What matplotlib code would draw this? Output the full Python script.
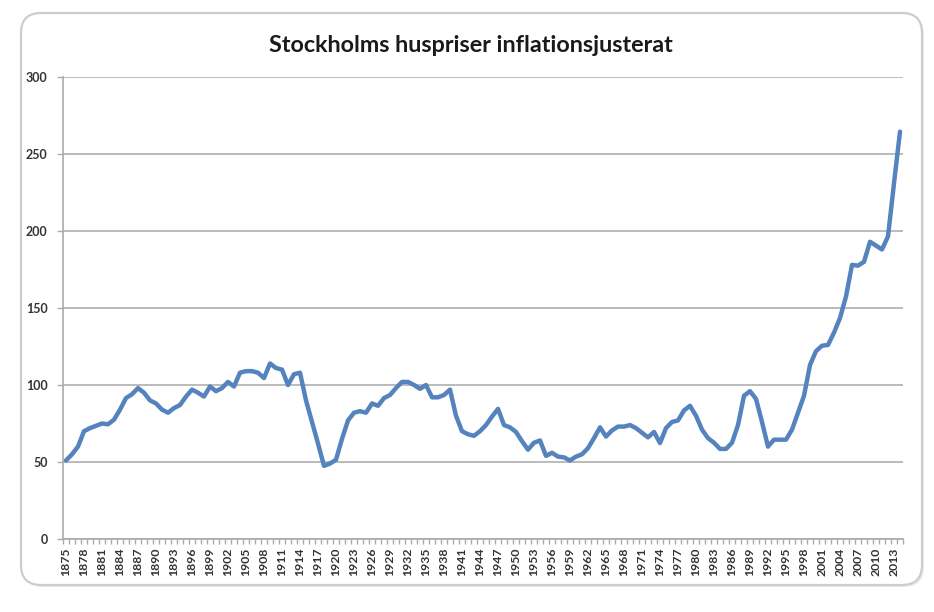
import numpy as np
import matplotlib
matplotlib.use("Agg")
from matplotlib import pyplot as plt
from matplotlib.patches import FancyBboxPatch

# inflationsjusterat prisindex, ett värde per år 1875-2014
first_year = 1875
values = [
    51, 55, 60, 70, 72, 73.5, 75, 74.5, 77.5, 84,            # 1875-1884
    91.5, 94, 98, 95, 90, 88, 84, 82, 85, 87,                 # 1885-1894
    92.5, 97, 95, 92.5, 99, 96, 98, 102, 99, 108,             # 1895-1904
    109, 109, 108, 104.5, 114, 111, 110, 100, 107, 108,       # 1905-1914
    90, 76, 62, 47.5, 49, 51.5, 65, 77, 82, 83,               # 1915-1924
    82, 88, 86.5, 91.5, 93.5, 98, 102, 102, 100, 97.5,        # 1925-1934
    100, 92, 92, 93.5, 97, 80, 70, 68, 67, 70,                # 1935-1944
    74, 79.5, 84.5, 74, 72.5, 69.5, 63.5, 58, 62.5, 64,       # 1945-1954
    54, 56, 53.5, 53, 51, 53.5, 55, 59, 65.5, 72.5,           # 1955-1964
    66.5, 70.5, 73, 73, 74, 72, 69, 66, 69.5, 62.3,           # 1965-1974
    72, 76, 77, 83.5, 86.5, 80, 71, 65.5, 62.5, 58.5,         # 1975-1984
    58.5, 62.5, 74, 93, 96, 91, 76, 60, 64.5, 64.5,           # 1985-1994
    64.5, 71, 82, 93, 113, 122, 125.5, 126, 134, 143.5,       # 1995-2004
    157.5, 178, 177.5, 180, 193, 190.5, 188, 196.5, 231, 264.5,  # 2005-2014
]
years = list(range(first_year, first_year + len(values)))
label_years = years[::3]   # 1875, 1878, ..., 2013
y_ticks = [0, 50, 100, 150, 200, 250, 300]
title = "Stockholms huspriser inflationsjusterat"

plt.rcParams['font.family'] = ['Lato', 'DejaVu Sans']

W, H = 934, 612
fig = plt.figure(figsize=(W / 100, H / 100), dpi=100)
fig.patch.set_facecolor('white')

# ram runt diagrammet (pixelkoordinater)
bg = fig.add_axes([0, 0, 1, 1], zorder=0)
bg.set_xlim(0, W)
bg.set_ylim(H, 0)
bg.axis('off')
shadow = FancyBboxPatch((23, 15), 901, 572, boxstyle="round,pad=0,rounding_size=20",
                        fc='#e9ebee', ec='none')
bg.add_patch(shadow)
frame = FancyBboxPatch((21, 13), 901, 572, boxstyle="round,pad=0,rounding_size=20",
                       fc='white', ec='#c9cdd4', lw=1.6)
bg.add_patch(frame)

ax = fig.add_axes([63 / W, 1 - 539 / H, 840 / W, 462 / H], zorder=1)
ax.patch.set_alpha(0)

ax.plot(years, values, color='#5483bd', lw=3.2, solid_joinstyle='round',
        solid_capstyle='round', zorder=3)

ax.set_xlim(first_year - 0.5, years[-1] + 0.5)
ax.set_ylim(0, 300)
ax.set_yticks(y_ticks)
ax.grid(axis='y', color='#b5b5b5', lw=1.3, zorder=1)

ax.set_xticks(label_years)
ax.set_xticklabels([str(y) for y in label_years], rotation=90, fontsize=8.8,
                   fontweight='bold', color='#333333')
ax.set_xticks(np.arange(first_year - 0.5, years[-1] + 1), minor=True)
ax.tick_params(axis='x', which='major', length=0, pad=6)
ax.tick_params(axis='x', which='minor', length=3.5, color='#aaaaaa', width=1)
ax.tick_params(axis='y', length=4, color='#aaaaaa', width=1, labelsize=9,
               labelcolor='#333333', pad=7)
for lab in ax.get_yticklabels():
    lab.set_fontweight('bold')

for side in ('top', 'right'):
    ax.spines[side].set_visible(False)
for side in ('left', 'bottom'):
    ax.spines[side].set_color('#aaaaaa')
    ax.spines[side].set_linewidth(1.2)

fig.text(471 / W, 1 - 45 / H, title, ha='center', va='center', fontsize=16.8,
         fontweight='bold', color='#1a1a1a')

fig.savefig('out.png', dpi=100)
